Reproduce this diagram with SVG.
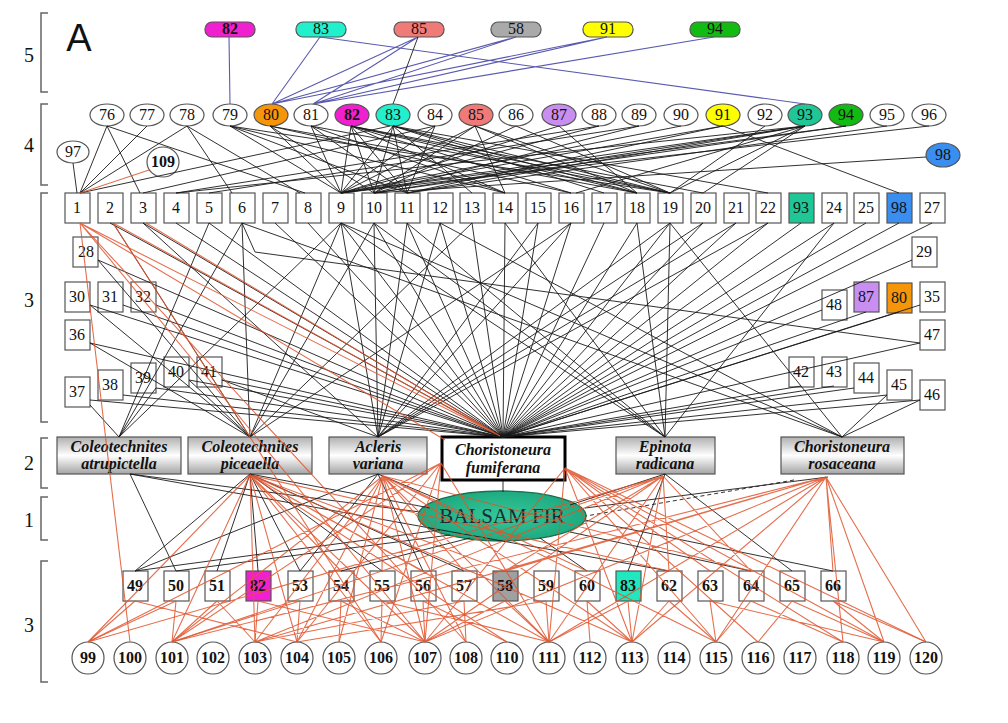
<svg xmlns="http://www.w3.org/2000/svg" width="1008" height="723" viewBox="0 0 1008 723">
<defs>
<linearGradient id="sg" x1="0" y1="0" x2="0" y2="1">
<stop offset="0" stop-color="#b0b0b0"/><stop offset="0.5" stop-color="#ffffff"/><stop offset="1" stop-color="#a4a4a4"/>
</linearGradient>
<radialGradient id="fir" cx="0.5" cy="0.5" r="0.5">
<stop offset="0" stop-color="#34c79a"/><stop offset="1" stop-color="#1faa80"/>
</radialGradient>
</defs>
<style>
text{font-family:"Liberation Serif","Times New Roman","DejaVu Serif",serif;font-size:16px;text-anchor:middle;fill:#111}
.b{font-weight:bold}
.sp{font-family:"Liberation Serif","Times New Roman","DejaVu Serif",serif;font-weight:bold;font-style:italic;font-size:16px}
.el{stroke:#555;stroke-width:1.2}
.bx{stroke:#555;stroke-width:1.2}
.pl{stroke:#555;stroke-width:1.2}
.br{fill:none;stroke:#666;stroke-width:1.5}
.k{fill:none;stroke:#1a1a1a;stroke-width:0.9}
.o{fill:none;stroke:#e0552e;stroke-width:1.1;stroke-opacity:0.85}
.u{fill:none;stroke:#5a5ab0;stroke-width:1.1}
</style>
<rect width="1008" height="723" fill="#fff"/>

<g id="brackets">
<path class="br" d="M48 13H41V92H48M48 104H41V185H48M48 193H41V422H48M48 438H41V488H48M48 497H41V540H48M48 561H41V682H48"/>
<text x="29" y="62" style="font-size:20px">5</text>
<text x="29" y="152" style="font-size:20px">4</text>
<text x="29" y="307" style="font-size:20px">3</text>
<text x="29" y="470" style="font-size:20px">2</text>
<text x="29" y="527" style="font-size:20px">1</text>
<text x="29" y="632" style="font-size:20px">3</text>
<text x="79" y="51" style="font-family:'Liberation Sans',Arial,sans-serif;font-size:38px">A</text>
</g>

<g id="level5">
<g id="p82"><rect class="pl" x="205" y="22" width="50" height="15" rx="7" fill="#f020d0"/><text class="b" x="230" y="34">82</text></g>
<g id="p83"><rect class="pl" x="296" y="22" width="50" height="15" rx="7" fill="#22f0cc"/><text x="321" y="34">83</text></g>
<g id="p85"><rect class="pl" x="394" y="22" width="50" height="15" rx="7" fill="#f07a78"/><text x="419" y="34">85</text></g>
<g id="p58"><rect class="pl" x="491" y="22" width="50" height="15" rx="7" fill="#aaaaaa"/><text x="516" y="34">58</text></g>
<g id="p91"><rect class="pl" x="583" y="22" width="50" height="15" rx="7" fill="#ffff00"/><text x="608" y="34">91</text></g>
<g id="p94"><rect class="pl" x="690" y="22" width="50" height="15" rx="7" fill="#11bb11"/><text x="715" y="34">94</text></g>
</g>

<g id="level4">
<g id="e76"><ellipse class="el" cx="107" cy="115" rx="17" ry="11" fill="#fff"/><text x="107" y="120">76</text></g>
<g id="e77"><ellipse class="el" cx="147" cy="115" rx="17" ry="11" fill="#fff"/><text x="147" y="120">77</text></g>
<g id="e78"><ellipse class="el" cx="187" cy="115" rx="17" ry="11" fill="#fff"/><text x="187" y="120">78</text></g>
<g id="e79"><ellipse class="el" cx="230" cy="115" rx="17" ry="11" fill="#fff"/><text x="230" y="120">79</text></g>
<g id="e80"><ellipse class="el" cx="271" cy="115" rx="17" ry="11" fill="#f5960a"/><text x="271" y="120">80</text></g>
<g id="e81"><ellipse class="el" cx="311" cy="115" rx="17" ry="11" fill="#fff"/><text x="311" y="120">81</text></g>
<g id="e82"><ellipse class="el" cx="352" cy="115" rx="17" ry="11" fill="#f020d0"/><text class="b" x="352" y="120">82</text></g>
<g id="e83"><ellipse class="el" cx="393" cy="115" rx="17" ry="11" fill="#22f0cc"/><text x="393" y="120">83</text></g>
<g id="e84"><ellipse class="el" cx="435" cy="115" rx="17" ry="11" fill="#fff"/><text x="435" y="120">84</text></g>
<g id="e85"><ellipse class="el" cx="476" cy="115" rx="17" ry="11" fill="#f07a78"/><text x="476" y="120">85</text></g>
<g id="e86"><ellipse class="el" cx="516" cy="115" rx="17" ry="11" fill="#fff"/><text x="516" y="120">86</text></g>
<g id="e87"><ellipse class="el" cx="559" cy="115" rx="17" ry="11" fill="#c88ef0"/><text x="559" y="120">87</text></g>
<g id="e88"><ellipse class="el" cx="599" cy="115" rx="17" ry="11" fill="#fff"/><text x="599" y="120">88</text></g>
<g id="e89"><ellipse class="el" cx="639" cy="115" rx="17" ry="11" fill="#fff"/><text x="639" y="120">89</text></g>
<g id="e90"><ellipse class="el" cx="681" cy="115" rx="17" ry="11" fill="#fff"/><text x="681" y="120">90</text></g>
<g id="e91"><ellipse class="el" cx="723" cy="115" rx="17" ry="11" fill="#ffff00"/><text x="723" y="120">91</text></g>
<g id="e92"><ellipse class="el" cx="765" cy="115" rx="17" ry="11" fill="#fff"/><text x="765" y="120">92</text></g>
<g id="e93"><ellipse class="el" cx="805" cy="115" rx="17" ry="11" fill="#1fc796"/><text x="805" y="120">93</text></g>
<g id="e94"><ellipse class="el" cx="846" cy="115" rx="17" ry="11" fill="#11bb11"/><text x="846" y="120">94</text></g>
<g id="e95"><ellipse class="el" cx="887" cy="115" rx="17" ry="11" fill="#fff"/><text x="887" y="120">95</text></g>
<g id="e96"><ellipse class="el" cx="929" cy="115" rx="17" ry="11" fill="#fff"/><text x="929" y="120">96</text></g>
<g id="e97"><ellipse class="el" cx="73" cy="152" rx="16" ry="11" fill="#fff"/><text x="73" y="157">97</text></g>
<g id="e109"><ellipse class="el" cx="163" cy="162" rx="16" ry="15" fill="#fff"/><text class="b" x="163" y="167">109</text></g>
<g id="e98"><ellipse class="el" cx="943" cy="155" rx="17" ry="12" fill="#3a8ef0"/><text x="943" y="160">98</text></g>
</g>

<g id="level3top">
<g id="b1"><rect class="bx" x="65" y="193" width="25" height="30" fill="#fff"/><text x="77" y="213">1</text></g>
<g id="b2"><rect class="bx" x="98" y="193" width="25" height="30" fill="#fff"/><text x="110" y="213">2</text></g>
<g id="b3"><rect class="bx" x="131" y="193" width="25" height="30" fill="#fff"/><text x="143" y="213">3</text></g>
<g id="b4"><rect class="bx" x="164" y="193" width="25" height="30" fill="#fff"/><text x="176" y="213">4</text></g>
<g id="b5"><rect class="bx" x="197" y="193" width="25" height="30" fill="#fff"/><text x="209" y="213">5</text></g>
<g id="b6"><rect class="bx" x="230" y="193" width="25" height="30" fill="#fff"/><text x="242" y="213">6</text></g>
<g id="b7"><rect class="bx" x="263" y="193" width="25" height="30" fill="#fff"/><text x="275" y="213">7</text></g>
<g id="b8"><rect class="bx" x="296" y="193" width="25" height="30" fill="#fff"/><text x="308" y="213">8</text></g>
<g id="b9"><rect class="bx" x="329" y="193" width="25" height="30" fill="#fff"/><text x="341" y="213">9</text></g>
<g id="b10"><rect class="bx" x="362" y="193" width="25" height="30" fill="#fff"/><text x="374" y="213">10</text></g>
<g id="b11"><rect class="bx" x="395" y="193" width="25" height="30" fill="#fff"/><text x="407" y="213">11</text></g>
<g id="b12"><rect class="bx" x="428" y="193" width="25" height="30" fill="#fff"/><text x="440" y="213">12</text></g>
<g id="b13"><rect class="bx" x="460" y="193" width="25" height="30" fill="#fff"/><text x="472" y="213">13</text></g>
<g id="b14"><rect class="bx" x="493" y="193" width="25" height="30" fill="#fff"/><text x="505" y="213">14</text></g>
<g id="b15"><rect class="bx" x="526" y="193" width="25" height="30" fill="#fff"/><text x="538" y="213">15</text></g>
<g id="b16"><rect class="bx" x="559" y="193" width="25" height="30" fill="#fff"/><text x="571" y="213">16</text></g>
<g id="b17"><rect class="bx" x="592" y="193" width="25" height="30" fill="#fff"/><text x="604" y="213">17</text></g>
<g id="b18"><rect class="bx" x="625" y="193" width="25" height="30" fill="#fff"/><text x="637" y="213">18</text></g>
<g id="b19"><rect class="bx" x="658" y="193" width="25" height="30" fill="#fff"/><text x="670" y="213">19</text></g>
<g id="b20"><rect class="bx" x="691" y="193" width="25" height="30" fill="#fff"/><text x="703" y="213">20</text></g>
<g id="b21"><rect class="bx" x="724" y="193" width="25" height="30" fill="#fff"/><text x="736" y="213">21</text></g>
<g id="b22"><rect class="bx" x="756" y="193" width="25" height="30" fill="#fff"/><text x="768" y="213">22</text></g>
<g id="b93"><rect class="bx" x="789" y="193" width="25" height="30" fill="#1fc796"/><text x="801" y="213">93</text></g>
<g id="b24"><rect class="bx" x="822" y="193" width="25" height="30" fill="#fff"/><text x="834" y="213">24</text></g>
<g id="b25"><rect class="bx" x="854" y="193" width="25" height="30" fill="#fff"/><text x="866" y="213">25</text></g>
<g id="b98"><rect class="bx" x="887" y="193" width="25" height="30" fill="#3a8ef0"/><text x="899" y="213">98</text></g>
<g id="b27"><rect class="bx" x="920" y="193" width="25" height="30" fill="#fff"/><text x="932" y="213">27</text></g>
<g id="b28"><rect class="bx" x="73" y="237" width="25" height="30" fill="#fff"/><text x="86" y="257">28</text></g>
<g id="b29"><rect class="bx" x="912" y="237" width="25" height="30" fill="#fff"/><text x="924" y="257">29</text></g>
<g id="b30"><rect class="bx" x="65" y="282" width="25" height="30" fill="#fff"/><text x="77" y="302">30</text></g>
<g id="b31"><rect class="bx" x="98" y="282" width="25" height="30" fill="#fff"/><text x="110" y="302">31</text></g>
<g id="b32"><rect class="bx" x="131" y="282" width="25" height="30" fill="#fff"/><text x="143" y="302">32</text></g>
<g id="b36"><rect class="bx" x="65" y="320" width="25" height="30" fill="#fff"/><text x="77" y="340">36</text></g>
<g id="b37"><rect class="bx" x="65" y="377" width="25" height="30" fill="#fff"/><text x="77" y="397">37</text></g>
<g id="b38"><rect class="bx" x="98" y="370" width="25" height="30" fill="#fff"/><text x="110" y="390">38</text></g>
<g id="b39"><rect class="bx" x="131" y="363" width="25" height="30" fill="#fff"/><text x="143" y="383">39</text></g>
<g id="b40"><rect class="bx" x="164" y="357" width="25" height="30" fill="#fff"/><text x="176" y="377">40</text></g>
<g id="b41"><rect class="bx" x="197" y="357" width="25" height="30" fill="#fff"/><text x="209" y="377">41</text></g>
<g id="b48"><rect class="bx" x="822" y="290" width="25" height="30" fill="#fff"/><text x="834" y="310">48</text></g>
<g id="b87"><rect class="bx" x="854" y="282" width="25" height="30" fill="#c88ef0"/><text x="866" y="302">87</text></g>
<g id="b80"><rect class="bx" x="887" y="283" width="25" height="30" fill="#f5960a"/><text x="899" y="303">80</text></g>
<g id="b35"><rect class="bx" x="920" y="282" width="25" height="30" fill="#fff"/><text x="932" y="302">35</text></g>
<g id="b47"><rect class="bx" x="920" y="320" width="25" height="30" fill="#fff"/><text x="932" y="340">47</text></g>
<g id="b42"><rect class="bx" x="789" y="357" width="25" height="30" fill="#fff"/><text x="801" y="377">42</text></g>
<g id="b43"><rect class="bx" x="822" y="357" width="25" height="30" fill="#fff"/><text x="834" y="377">43</text></g>
<g id="b44"><rect class="bx" x="854" y="363" width="25" height="30" fill="#fff"/><text x="866" y="383">44</text></g>
<g id="b45"><rect class="bx" x="887" y="370" width="25" height="30" fill="#fff"/><text x="899" y="390">45</text></g>
<g id="b46"><rect class="bx" x="920" y="380" width="25" height="30" fill="#fff"/><text x="932" y="400">46</text></g>
</g>

<g id="level2">
<g id="sAtru"><rect x="57" y="437" width="124" height="37" fill="url(#sg)" stroke="#555" stroke-width="1.2"/><text class="sp" x="119" y="452">Coleotechnites</text><text class="sp" x="119" y="469">atrupictella</text></g>
<g id="sPice"><rect x="188" y="437" width="124" height="37" fill="url(#sg)" stroke="#555" stroke-width="1.2"/><text class="sp" x="250" y="452">Coleotechnites</text><text class="sp" x="250" y="469">piceaella</text></g>
<g id="sVari"><rect x="329" y="437" width="98" height="37" fill="url(#sg)" stroke="#555" stroke-width="1.2"/><text class="sp" x="378" y="452">Acleris</text><text class="sp" x="378" y="469">variana</text></g>
<g id="sFumi"><rect x="442" y="437" width="123" height="43" fill="#fff" stroke="#000" stroke-width="3"/><text class="sp" x="503" y="455">Choristoneura</text><text class="sp" x="503" y="473">fumiferana</text></g>
<g id="sRadi"><rect x="616" y="437" width="99" height="37" fill="url(#sg)" stroke="#555" stroke-width="1.2"/><text class="sp" x="665" y="452">Epinota</text><text class="sp" x="665" y="469">radicana</text></g>
<g id="sRosa"><rect x="781" y="437" width="123" height="37" fill="url(#sg)" stroke="#555" stroke-width="1.2"/><text class="sp" x="842" y="452">Choristoneura</text><text class="sp" x="842" y="469">rosaceana</text></g>
</g>

<g id="level1">
<g id="balsamfir"><ellipse cx="502" cy="516" rx="84" ry="25" fill="url(#fir)" stroke="#17704f" stroke-width="1.3"/><text x="502" y="523" style="font-size:21px;fill:#1e2a33">BALSAM FIR</text></g>
</g>

<g id="level3bottom">
<g id="c49"><rect class="bx" x="123" y="571" width="25" height="30" fill="#fff"/><text class="b" x="135" y="591">49</text></g>
<g id="c50"><rect class="bx" x="164" y="571" width="25" height="30" fill="#fff"/><text class="b" x="176" y="591">50</text></g>
<g id="c51"><rect class="bx" x="205" y="571" width="25" height="30" fill="#fff"/><text class="b" x="217" y="591">51</text></g>
<g id="c82"><rect class="bx" x="246" y="571" width="25" height="30" fill="#f020d0"/><text class="b" x="258" y="591">82</text></g>
<g id="c53"><rect class="bx" x="288" y="571" width="25" height="30" fill="#fff"/><text class="b" x="300" y="591">53</text></g>
<g id="c54"><rect class="bx" x="329" y="571" width="25" height="30" fill="#fff"/><text class="b" x="341" y="591">54</text></g>
<g id="c55"><rect class="bx" x="370" y="571" width="25" height="30" fill="#fff"/><text class="b" x="382" y="591">55</text></g>
<g id="c56"><rect class="bx" x="411" y="571" width="25" height="30" fill="#fff"/><text class="b" x="423" y="591">56</text></g>
<g id="c57"><rect class="bx" x="452" y="571" width="25" height="30" fill="#fff"/><text class="b" x="464" y="591">57</text></g>
<g id="c58"><rect class="bx" x="493" y="571" width="25" height="30" fill="#a0a0a0"/><text class="b" x="505" y="591">58</text></g>
<g id="c59"><rect class="bx" x="534" y="571" width="25" height="30" fill="#fff"/><text class="b" x="546" y="591">59</text></g>
<g id="c60"><rect class="bx" x="575" y="571" width="25" height="30" fill="#fff"/><text class="b" x="587" y="591">60</text></g>
<g id="c83"><rect class="bx" x="616" y="571" width="25" height="30" fill="#22e8c0"/><text class="b" x="628" y="591">83</text></g>
<g id="c62"><rect class="bx" x="657" y="571" width="25" height="30" fill="#fff"/><text class="b" x="669" y="591">62</text></g>
<g id="c63"><rect class="bx" x="698" y="571" width="25" height="30" fill="#fff"/><text class="b" x="710" y="591">63</text></g>
<g id="c64"><rect class="bx" x="739" y="571" width="25" height="30" fill="#fff"/><text class="b" x="751" y="591">64</text></g>
<g id="c65"><rect class="bx" x="780" y="571" width="25" height="30" fill="#fff"/><text class="b" x="792" y="591">65</text></g>
<g id="c66"><rect class="bx" x="821" y="571" width="25" height="30" fill="#fff"/><text class="b" x="833" y="591">66</text></g>
</g>

<g id="circles">
<g id="n99"><circle class="el" cx="88" cy="658" r="16" fill="#fff"/><text class="b" x="88" y="663">99</text></g>
<g id="n100"><circle class="el" cx="130" cy="658" r="16" fill="#fff"/><text class="b" x="130" y="663">100</text></g>
<g id="n101"><circle class="el" cx="172" cy="658" r="16" fill="#fff"/><text class="b" x="172" y="663">101</text></g>
<g id="n102"><circle class="el" cx="213" cy="658" r="16" fill="#fff"/><text class="b" x="213" y="663">102</text></g>
<g id="n103"><circle class="el" cx="255" cy="658" r="16" fill="#fff"/><text class="b" x="255" y="663">103</text></g>
<g id="n104"><circle class="el" cx="297" cy="658" r="16" fill="#fff"/><text class="b" x="297" y="663">104</text></g>
<g id="n105"><circle class="el" cx="339" cy="658" r="16" fill="#fff"/><text class="b" x="339" y="663">105</text></g>
<g id="n106"><circle class="el" cx="381" cy="658" r="16" fill="#fff"/><text class="b" x="381" y="663">106</text></g>
<g id="n107"><circle class="el" cx="425" cy="658" r="16" fill="#fff"/><text class="b" x="425" y="663">107</text></g>
<g id="n108"><circle class="el" cx="466" cy="658" r="16" fill="#fff"/><text class="b" x="466" y="663">108</text></g>
<g id="n110"><circle class="el" cx="507" cy="658" r="16" fill="#fff"/><text class="b" x="507" y="663">110</text></g>
<g id="n111"><circle class="el" cx="549" cy="658" r="16" fill="#fff"/><text class="b" x="549" y="663">111</text></g>
<g id="n112"><circle class="el" cx="590" cy="658" r="16" fill="#fff"/><text class="b" x="590" y="663">112</text></g>
<g id="n113"><circle class="el" cx="632" cy="658" r="16" fill="#fff"/><text class="b" x="632" y="663">113</text></g>
<g id="n114"><circle class="el" cx="674" cy="658" r="16" fill="#fff"/><text class="b" x="674" y="663">114</text></g>
<g id="n115"><circle class="el" cx="716" cy="658" r="16" fill="#fff"/><text class="b" x="716" y="663">115</text></g>
<g id="n116"><circle class="el" cx="758" cy="658" r="16" fill="#fff"/><text class="b" x="758" y="663">116</text></g>
<g id="n117"><circle class="el" cx="800" cy="658" r="16" fill="#fff"/><text class="b" x="800" y="663">117</text></g>
<g id="n118"><circle class="el" cx="843" cy="658" r="16" fill="#fff"/><text class="b" x="843" y="663">118</text></g>
<g id="n119"><circle class="el" cx="884" cy="658" r="16" fill="#fff"/><text class="b" x="884" y="663">119</text></g>
<g id="n120"><circle class="el" cx="926" cy="658" r="16" fill="#fff"/><text class="b" x="926" y="663">120</text></g>
</g>

<g id="connectors">
<path class="u" d="M229 37L230 104M320 37L272 104M320 37L805 104M418 37L272 104M418 37L313 104M516 37L272 104M516 37L313 104M607 37L313 104M607 37L272 104M714 37L313 104"/>
<path class="k" d="M418 37L393 104"/>
<path class="k" d="M73 163L77 193M107 126L80 193M147 126L80 193M187 126L80 193M107 126L140 193M107 126L305 193M187 126L232 193M187 126L300 193M80 193L390 126M143 193L435 126M176 193L599 126M209 193L639 126M176 193L805 126
M230 126L341 193M230 126L407 193M230 126L505 193M230 126L670 193
M270 126L341 193M270 126L374 193M270 126L571 193M270 126L637 193
M311 126L341 193M311 126L407 193M311 126L670 193M311 126L505 193
M351 126L341 193M351 126L374 193M351 126L407 193M351 126L505 193M351 126L571 193M351 126L637 193M351 126L670 193M351 126L703 193
M393 126L341 193M393 126L374 193M393 126L407 193M393 126L472 193M393 126L604 193M393 126L637 193M393 126L670 193M393 126L768 193
M435 126L341 193M435 126L407 193
M475 126L341 193M475 126L505 193M475 126L637 193M475 126L670 193M475 126L374 193
M516 126L374 193M516 126L670 193M559 126L637 193M559 126L341 193M599 126L341 193M639 126L374 193M681 126L341 193
M723 126L407 193M723 126L899 193M723 126L341 193M765 126L670 193
M805 126L341 193M805 126L374 193M805 126L407 193M805 126L670 193M805 126L703 193M805 126L576 193
M846 126L374 193M846 126L341 193M887 126L407 193M929 126L341 193M926 157L374 193"/>
<path class="k" d="M110 223L503 437M143 223L503 437M176 223L503 437M209 223L503 437M275 223L503 437M308 223L503 437M341 223L503 437M374 223L503 437M407 223L503 437M440 223L503 437M472 223L503 437M505 223L503 437M538 223L503 437M571 223L503 437M604 223L503 437M637 223L503 437M670 223L503 437M703 223L503 437M736 223L503 437M768 223L503 437M801 223L503 437M834 223L503 437M866 223L503 437M899 223L503 437M932 223L503 437M98 260L503 437M90 305L503 437M123 305L503 437M156 305L503 437M90 343L503 437M90 400L503 437M123 395L503 437M156 388L503 437M189 380L503 437M222 380L503 437M912 260L503 437M822 310L503 437M866 312L503 437M899 312L503 437M920 305L503 437M920 343L503 437M801 386L503 437M834 386L503 437M854 388L503 437M887 395L503 437M920 400L503 437
M113 223L250 437M341 223L250 437M374 223L250 437M242 223L250 437M90 305L250 437M90 343L250 437M571 223L250 437M472 223L250 437M189 380L250 437M98 260L250 437
M242 223L119 437M341 223L119 437M156 388L119 437M90 405L119 437M209 223L119 437
M341 223L378 437M374 223L378 437M407 223L378 437M143 223L378 437M538 223L378 437M571 223L378 437M670 223L378 437M703 223L378 437M736 223L378 437M768 223L378 437M222 380L378 437M440 223L378 437
M341 223L665 437M407 223L665 437M505 223L665 437M637 223L665 437M670 223L665 437M834 223L665 437M374 223L665 437
M341 223L842 437M440 223L842 437M670 223L842 437M242 223L842 437M920 400L842 437M887 395L842 437M242 223L255 252L920 343"/>
<path class="k" d="M130 474L176 571M130 474L420 512M130 474L669 571M250 474L135 571M250 474L217 571M250 474L258 571M250 474L300 571M250 474L430 508M250 474L382 571M250 474L464 571M378 474L135 571M378 474L300 571M378 474L440 500M378 474L423 571M503 481L503 492M665 474L570 505M665 474L628 571M665 474L792 571M828 477L585 508M440 530L135 571M450 535L176 571M470 538L341 571M540 538L587 571M570 532L751 571M585 520L833 571"/>
<path class="k" d="M794 480L586 516" stroke-dasharray="4 3"/>
<path class="o" d="M149 170L80 193M80 223L500 436M80 223L445 440M113 223L500 436M146 223L500 436M80 223L130 642M80 223L425 642M80 223L466 642M113 223L381 642"/>
<path class="o" d="M250 475L88 642M250 475L172 642M250 475L255 642M250 475L297 642M250 475L381 642M250 475L425 642M250 475L507 642M250 475L549 642M250 475L632 642M250 475L341 571M250 475L423 571M250 475L505 571M250 475L669 571
M383 476L172 642M383 476L255 642M383 476L297 642M383 476L339 642M383 476L425 642M383 476L466 642M383 476L549 642M383 476L632 642M383 476L716 642M383 476L382 571M383 476L464 571M383 476L587 571M383 476L751 571
M441 463L88 642M441 463L172 642M441 463L297 642M441 463L381 642M441 463L425 642M441 463L549 642
M565 468L425 642M565 468L549 642M565 468L632 642M565 468L716 642M565 468L758 642M565 468L843 642M565 468L884 642M565 468L926 642M565 468L710 571
M663 476L88 642M663 476L172 642M663 476L255 642M663 476L425 642M663 476L549 642M663 476L632 642M663 476L382 571M663 476L505 571M663 476L669 571M663 476L751 571
M826 477L172 642M826 477L255 642M826 477L425 642M826 477L549 642M826 477L632 642M826 477L716 642M826 477L843 642M826 477L884 642M826 477L926 642M826 477L833 571M826 477L505 571"/>
<path class="o" d="M135 601L88 642M135 601L297 642M176 601L172 642M176 601L88 642M217 601L172 642M217 601L255 642M258 601L255 642M258 601L425 642M300 601L297 642M300 601L172 642M341 601L339 642M341 601L425 642M382 601L381 642M382 601L549 642M423 601L425 642M423 601L507 642M464 601L466 642M464 601L255 642M505 601L425 642M505 601L549 642M546 601L549 642M546 601L297 642M587 601L590 642M587 601L632 642M628 601L632 642M628 601L549 642M669 601L632 642M669 601L716 642M710 601L716 642M710 601L884 642M751 601L716 642M751 601L843 642M792 601L884 642M792 601L758 642M833 601L926 642M833 601L884 642"/>
</g>
</svg>
